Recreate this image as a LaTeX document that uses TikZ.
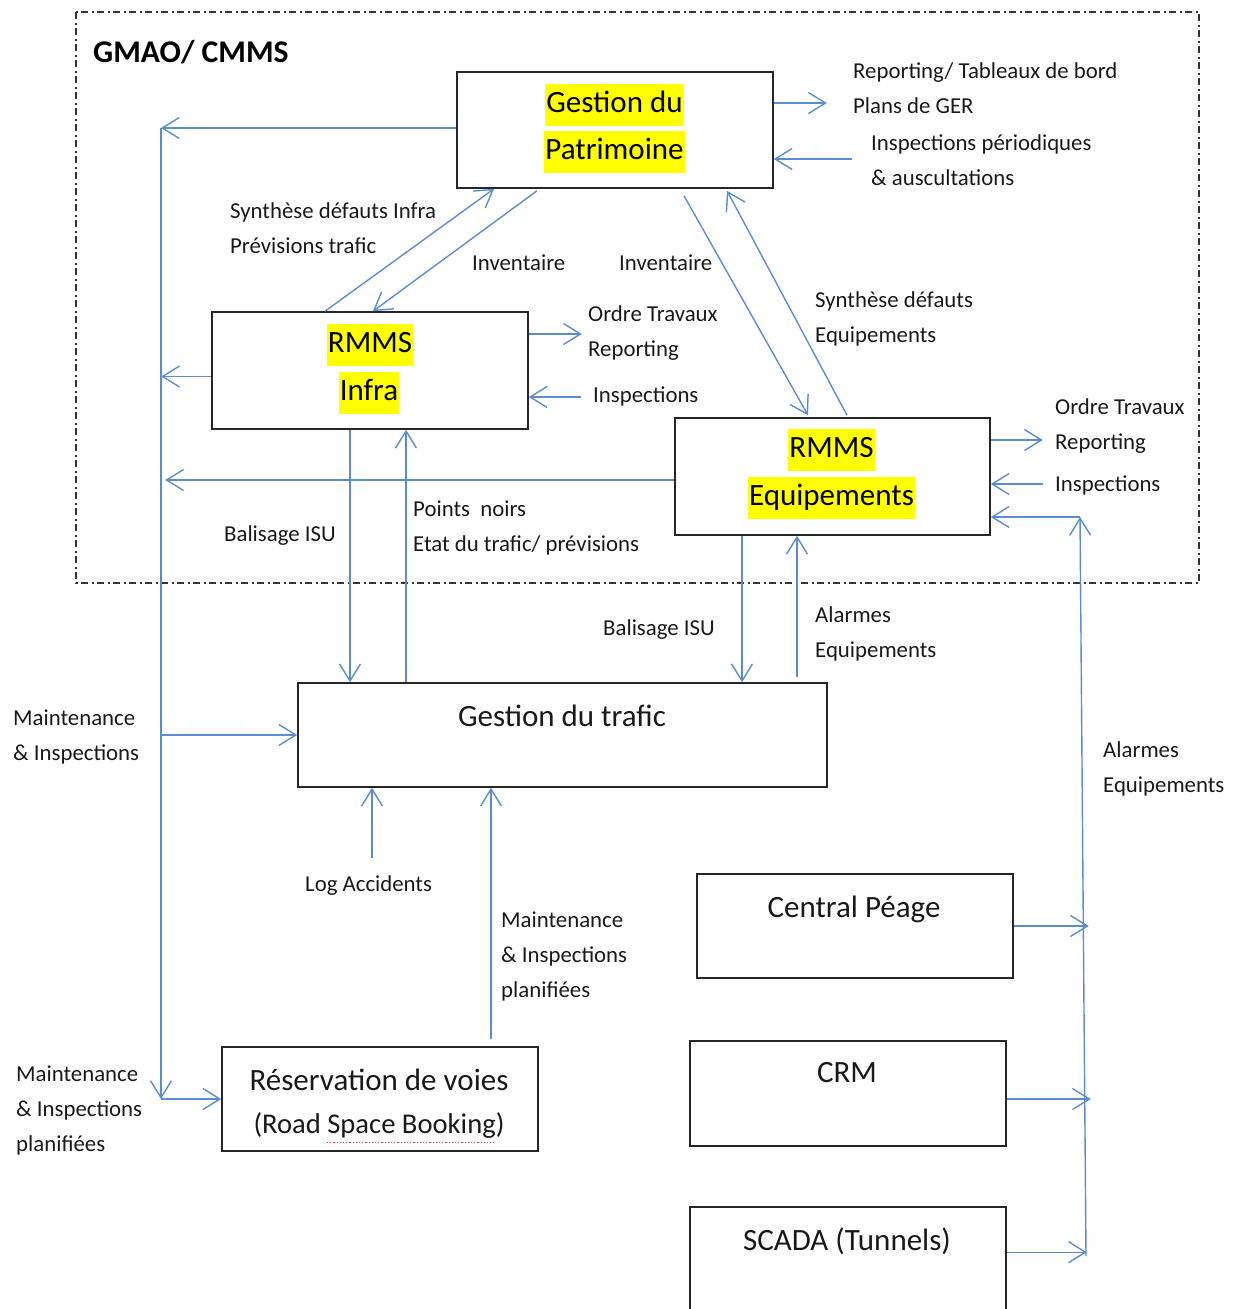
\documentclass[tikz,border=0pt]{standalone}
\usepackage{fontspec}
\setmainfont{Carlito}
\usetikzlibrary{arrows.meta,calc}
\definecolor{flowblue}{HTML}{5B8CCF}
\definecolor{hiyellow}{HTML}{FFFF00}

\begin{document}
\begin{tikzpicture}[x=1pt,y=-1pt,
  box/.style={draw=black!85, line width=1.6pt, inner sep=0pt},
  flow/.style={draw=flowblue, line width=1.4pt, -{Straight Barb[length=17pt,width=21pt]}},
  link/.style={draw=flowblue, line width=1.4pt},
  lbl/.style={anchor=west, inner sep=0pt, align=left, font=\fontsize{22.8}{35}\selectfont, text=black!90},
  hl/.style={fill=hiyellow, inner xsep=1pt, inner ysep=5.5pt, text height=23pt, text depth=8pt, font=\fontsize{31}{37}\selectfont},
  boxtext/.style={inner sep=0pt, text height=23pt, text depth=8pt, font=\fontsize{31}{37}\selectfont, text=black!90},
  frame/.style={draw=black!80, line width=1.3pt, dash pattern=on 7pt off 3.5pt on 2pt off 3.5pt}
]
\useasboundingbox (0,0) rectangle (1235,1309);
\clip (0,0) rectangle (1235,1309);

% CMMS perimeter
\draw[frame] (76,12) rectangle (1199,583);
\node[anchor=west, inner sep=0pt, font=\bfseries\fontsize{31.6}{38}\selectfont] (title) at (93,52) {GMAO/ CMMS};

% systems
\node[box, minimum width=316pt, minimum height=116pt] (gp) at (615,130) {};
\node[hl] (gp1) at (614.5,105) {Gestion du};
\node[hl] (gp2) at (614.5,152) {Patrimoine};

\node[box, minimum width=316pt, minimum height=117pt] (ri) at (370,370.5) {};
\node[hl] (ri1) at (370,345) {RMMS};
\node[hl] (ri2) at (369,392.5) {Infra};

\node[box, minimum width=315pt, minimum height=117pt] (re) at (832.5,476.5) {};
\node[hl] (re1) at (831.5,450) {RMMS};
\node[hl] (re2) at (831.5,497.5) {Equipements};

\node[box, minimum width=529pt, minimum height=104pt] (gt) at (562.5,735) {};
\node[boxtext] (gt1) at (562,719) {Gestion du trafic};

\node[box, minimum width=316pt, minimum height=104pt] (rv) at (380,1099) {};
\node[boxtext] (rv1) at (379,1083) {Réservation de voies};
\node[boxtext, font=\fontsize{28.6}{35}\selectfont] (rv2) at (379,1126) {(Road Space Booking)};
\draw[red!85, line width=1pt, dash pattern=on 1.2pt off 2pt] (327,1142) -- (494,1142);

\node[box, minimum width=316pt, minimum height=104pt] (cp) at (855,926) {};
\node[boxtext] (cp1) at (854,910) {Central Péage};

\node[box, minimum width=316pt, minimum height=105pt] (crm) at (848,1093.5) {};
\node[boxtext] (crm1) at (847,1075) {CRM};

\node[box, minimum width=316pt, minimum height=120pt] (scada) at (848,1267) {};
\node[boxtext] (scada1) at (847,1243) {SCADA (Tunnels)};

% left distribution bus
\coordinate (bustop) at (161,128);
\coordinate (busbot) at (161,1099);
\draw[flow] ($(gp.west)+(0,-2)$) -- (bustop);
\draw[flow] (bustop) -- (busbot);
\draw[flow] ($(ri.west)+(0,6)$) -- ++(-50,0);
\draw[flow] ($(re.west)+(0,3.5)$) -- ++(-509,0);
\draw[flow] (gt.west -| bustop) -- (gt.west);
\draw[flow] (busbot) -- (rv.west);

% asset management
\draw[flow] ($(gp.east)+(0,-27)$) -- ++(53,0);
\draw[flow] ($(gp.east)+(78,29)$) -- ($(gp.east)+(0,29)$);
\draw[flow] ($(ri.north)+(-45,0)$) -- ($(gp.south)+(-121,0)$);
\draw[flow] ($(gp.south)+(-78,2)$) -- ($(ri.north)+(3,0)$);
\draw[flow] ($(gp.south)+(69,7)$) -- ($(re.north)+(-24.5,-2)$);
\draw[flow] ($(re.north)+(14.5,-2)$) -- ($(gp.south)+(112,2)$);

% RMMS outputs and inputs
\draw[flow] ($(ri.east)+(0,-36.5)$) -- ++(53,0);
\draw[flow] ($(ri.east)+(52,26.5)$) -- ($(ri.east)+(0,26.5)$);
\draw[flow] ($(re.east)+(0,-36.5)$) -- ++(52,0);
\draw[flow] ($(re.east)+(52,7.5)$) -- ($(re.east)+(0,7.5)$);

% alarm bus on the right
\coordinate (alarmtop) at (1080,517);
\coordinate (alarmbot) at (1086,1256);
\draw[flow] (alarmbot) -- (alarmtop);
\draw[flow] (alarmtop) -- (alarmtop -| re.east);
\draw[flow] (cp.east) -- ++(75,0);
\draw[flow] ($(crm.east)+(0,5.5)$) -- ++(84,0);
\draw[flow] ($(scada.north east)+(0,46)$) -- ++(80,0);

% traffic management links
\draw[flow] ($(ri.south)+(-20,0)$) -- ($(gt.north)+(-212.5,0)$);
\draw[flow] ($(gt.north)+(-156.5,0)$) -- ($(ri.south)+(36,0)$);
\draw[flow] ($(re.south)+(-90.5,0)$) -- ($(gt.north)+(179.5,0)$);
\draw[flow] ($(gt.north)+(234.5,-5)$) -- ($(re.south)+(-35.5,0)$);
\draw[flow] ($(gt.south)+(-190.5,70)$) -- ($(gt.south)+(-190.5,0)$);
\draw[flow] ($(rv.north)+(111,-7)$) -- ($(gt.south)+(-71.5,0)$);

% flow labels
\node[lbl] (l1) at (853,88) {Reporting/ Tableaux de bord\\Plans de GER};
\node[lbl] (l2) at (871,160.5) {Inspections périodiques\\\& auscultations};
\node[lbl] (l3) at (230,228.5) {Synthèse défauts Infra\\Prévisions trafic};
\node[lbl] (l4) at (472,263) {Inventaire};
\node[lbl] (l5) at (619,263) {Inventaire};
\node[lbl] (l6) at (815,319) {Synthèse défauts\\Equipements};
\node[lbl] (l7) at (588,333.5) {Ordre Travaux\\Reporting};
\node[lbl] (l8) at (593,396) {Inspections};
\node[lbl] (l9) at (1055,426.5) {Ordre Travaux\\Reporting};
\node[lbl] (l10) at (1055,485) {Inspections};
\node[lbl] (l11) at (224,536) {Balisage ISU};
\node[lbl] (l12) at (413,527.5) {Points\ \ noirs\\Etat du trafic/ prévisions};
\node[lbl] (l13) at (603,630) {Balisage ISU};
\node[lbl] (l14) at (815,633.5) {Alarmes\\Equipements};
\node[lbl] (l15) at (13,736.5) {Maintenance\\\& Inspections};
\node[lbl] (l16) at (305,886) {Log Accidents};
\node[lbl] (l17) at (501,956) {Maintenance\\\& Inspections\\planifiées};
\node[lbl] (l18) at (1103,768.5) {Alarmes\\Equipements};
\node[lbl] (l19) at (16,1110.5) {Maintenance\\\& Inspections\\planifiées};
\end{tikzpicture}
\end{document}
